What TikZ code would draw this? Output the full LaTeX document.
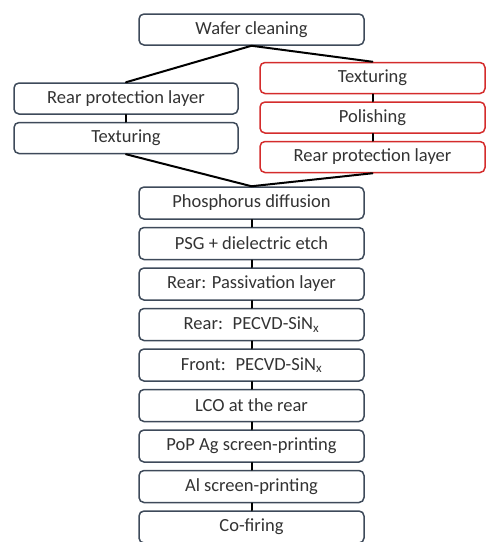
\documentclass[tikz,border=0pt]{standalone}
\usepackage{fontspec}
\setmainfont{Carlito}
\usetikzlibrary{positioning}
\definecolor{boxline}{HTML}{3E4A5A}
\definecolor{boxred}{HTML}{D42C2C}
\definecolor{boxtext}{HTML}{333333}
\begin{document}
\begin{tikzpicture}[x=1pt,y=1pt,line join=round,line cap=round]
\tikzset{stepbox/.style={draw=boxline,line width=1.5pt,rounded corners=5pt,fill=white,
  minimum width=225pt,minimum height=31pt,inner sep=0pt,text=boxtext,
  font=\fontsize{18.5}{21}\selectfont},
  redbox/.style={stepbox,draw=boxred},
  link/.style={line width=2pt,black}}
\useasboundingbox (0,0) rectangle (500,-542);
% top
\node[stepbox] (wafer) at (251.5,-29.5) {Wafer cleaning};
% left branch
\node[stepbox,minimum width=224pt] (lrear) at (126,-98.5) {Rear protection layer};
\node[stepbox,minimum width=224pt,below=7pt of lrear] (ltex) {Texturing};
% right branch
\node[redbox] (rtex) at (372.5,-78) {Texturing};
\node[redbox,below=7pt of rtex] (rpol) {Polishing};
\node[redbox,below=7pt of rpol] (rrear) {Rear protection layer};
% main column
\node[stepbox,minimum height=32pt] (phos) at (251.5,-203) {Phosphorus diffusion};
\node[stepbox,minimum height=32pt,below=7pt of phos] (psg) {PSG + dielectric etch};
\node[stepbox,minimum height=32pt,below=7pt of psg] (pass) {Rear: Passivation layer};
\node[stepbox,minimum height=32pt,below=7pt of pass] (rsin) {Rear:~ PECVD-SiN\textsubscript{x}};
\node[stepbox,minimum height=32pt,below=7pt of rsin] (fsin) {Front:~ PECVD-SiN\textsubscript{x}};
\node[stepbox,minimum height=32pt,below=7pt of fsin] (lco) {LCO at the rear};
\node[stepbox,minimum height=32pt,below=7pt of lco] (pop) {PoP Ag screen-printing};
\node[stepbox,minimum height=32pt,below=7pt of pop] (alsp) {Al screen-printing};
\node[stepbox,minimum height=32pt,below=7pt of alsp] (fire) {Co-firing};
% connectors
\draw[link] (wafer.south) -- (lrear.north);
\draw[link] (wafer.south) -- (rtex.north);
\draw[link] (ltex.south) -- (phos.north);
\draw[link] (rrear.south) -- (phos.north);
\draw[link] (lrear) -- (ltex);
\draw[link] (rtex) -- (rpol);
\draw[link] (rpol) -- (rrear);
\foreach \a/\b in {phos/psg,psg/pass,pass/rsin,rsin/fsin,fsin/lco,lco/pop,pop/alsp,alsp/fire}
\draw[link] (\a) -- (\b);
\end{tikzpicture}
\end{document}
